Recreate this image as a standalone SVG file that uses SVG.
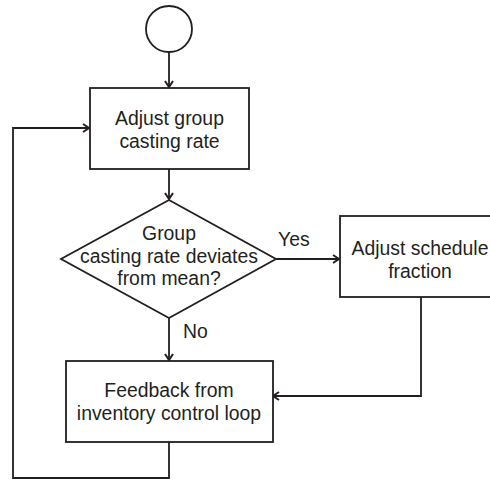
<svg xmlns="http://www.w3.org/2000/svg" width="490" height="480" viewBox="0 0 490 480">
<defs>
<style>
.s{fill:#fff;stroke:#231f20;stroke-width:1.8}
.c{fill:none;stroke:#231f20;stroke-width:1.8}
.t{font-family:"Liberation Sans",Arial,sans-serif;font-size:19.4px;fill:#231f20;text-anchor:middle}
.l{font-family:"Liberation Sans",Arial,sans-serif;font-size:19.4px;fill:#231f20}
</style>
<marker id="a" viewBox="0 0 10 10" refX="9" refY="5" markerWidth="10" markerHeight="10" markerUnits="userSpaceOnUse" orient="auto">
<path d="M3,1 L9,5 L3,9" fill="none" stroke="#231f20" stroke-width="2"/>
</marker>
</defs>
<rect width="490" height="480" fill="#fff"/>
<g id="connectors">
<line class="c" x1="169" y1="52" x2="169" y2="87" marker-end="url(#a)"/>
<line class="c" x1="169" y1="169" x2="169" y2="199" marker-end="url(#a)"/>
<line class="c" x1="276" y1="259" x2="339" y2="259" marker-end="url(#a)"/>
<line class="c" x1="169" y1="318" x2="169" y2="360" marker-end="url(#a)"/>
<polyline class="c" points="421,297 421,396 273,396" marker-end="url(#a)"/>
<polyline class="c" points="169,442 169,478 13,478 13,128 89,128" marker-end="url(#a)"/>
<text class="l" x="278" y="246">Yes</text>
<text class="l" x="183" y="338">No</text>
</g>
<g id="start">
<circle class="s" cx="169" cy="29" r="23"/>
</g>
<g id="adjust-rate">
<rect class="s" x="90" y="88" width="159" height="81"/>
<text class="t" x="169.5" y="125">Adjust group</text>
<text class="t" x="169.5" y="148">casting rate</text>
</g>
<g id="decision">
<polygon class="s" points="169,200 276,259 169,318 61,259"/>
<text class="t" x="169" y="240">Group</text>
<text class="t" x="169" y="263">casting rate deviates</text>
<text class="t" x="169" y="285">from mean?</text>
</g>
<g id="adjust-schedule">
<rect class="s" x="340" y="216" width="160" height="81"/>
<text class="t" x="420" y="255">Adjust schedule</text>
<text class="t" x="420" y="278">fraction</text>
</g>
<g id="feedback">
<rect class="s" x="66" y="361" width="207" height="81"/>
<text class="t" x="169" y="397">Feedback from</text>
<text class="t" x="169" y="420">inventory control loop</text>
</g>
</svg>
